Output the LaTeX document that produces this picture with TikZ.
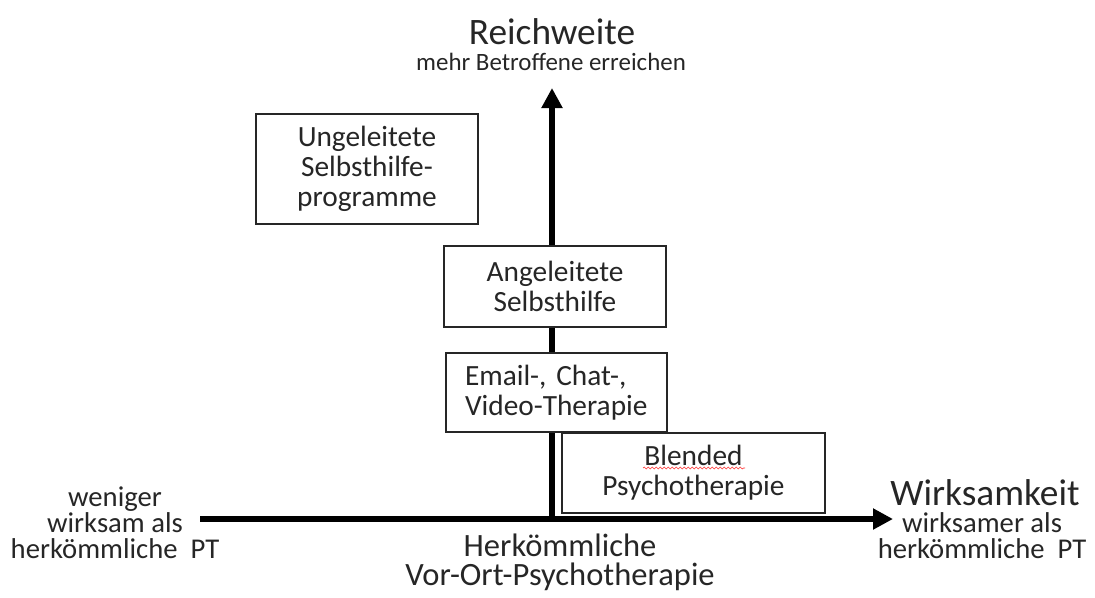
\documentclass[tikz,border=0pt]{standalone}
\usepackage{fontspec}
\setmainfont{Carlito}
\usetikzlibrary{arrows.meta,decorations.pathmorphing}

\newcommand\titlefont{\fontsize{28}{30}\selectfont}
\newcommand\subtitlefont{\fontsize{18.7}{20}\selectfont}
\newcommand\boxfont{\fontsize{22}{22.5}\selectfont}
\newcommand\sidefont{\fontsize{21.5}{19.2}\selectfont}
\newcommand\centerfont{\fontsize{24.4}{21.5}\selectfont}

\begin{document}
\begin{tikzpicture}[x=0.75pt,y=-0.75pt,
  axis/.style={line width=4.8pt,-{Triangle[length=15pt,width=15pt]}},
  method/.style={draw=black!85,fill=white,line width=0.9pt,inner sep=0pt,
    font=\boxfont,text=black!85,align=center},
  label/.style={anchor=base,inner sep=0pt,text=black!85,align=center}]
  \useasboundingbox (0,0) rectangle (1095,597);

  % axes
  \coordinate (origin) at (552,519);
  \coordinate (top)    at (552,88);
  \coordinate (left)   at (200,519);
  \coordinate (right)  at (893,519);
  \draw[axis] (origin) -- (top);
  \draw[axis] (left) -- (right);

  % vertical axis title
  \node[label,font=\titlefont]    (reach)    at (552,44) {Reichweite};
  \node[label,font=\subtitlefont] (reachsub) at (551,70) {mehr Betroffene erreichen};

  % horizontal axis, left end (base = last line)
  \node[label,font=\sidefont] (less) at (115,558)
    {weniger\\wirksam als\\herkömmliche\ \ PT};

  % horizontal axis, right end
  \node[label,font=\titlefont] (effect) at (985,505) {Wirksamkeit};
  \node[label,font=\sidefont]  (more)   at (982,558)
    {wirksamer als\\herkömmliche\ \ PT};

  % origin: conventional therapy
  \node[label,font=\centerfont] (conv) at (560,585)
    {Herkömmliche\\Vor-Ort-Psychotherapie};

  % treatment formats
  \node[method,minimum width=222*0.75pt,minimum height=110*0.75pt]
    (unguided) at (367,169) {Ungeleitete\\Selbsthilfe-\\programme};
  \node[method,minimum width=222*0.75pt,minimum height=81*0.75pt]
    (guided) at (555,286.5) {Angeleitete\\Selbsthilfe};
  \node[method,minimum width=221*0.75pt,minimum height=79*0.75pt,
    inner xsep=19*0.75pt,text width=183*0.75pt,align=left]
    (email) at (556.5,392.5) {Email-, Chat-,\\Video-Therapie};
  \node[method,minimum width=263*0.75pt,minimum height=80*0.75pt]
    (blended) at (693.5,473) {Blended\\Psychotherapie};

  % spell-check underline under "Blended"
  \draw[red!80,line width=0.45pt,decorate,
    decoration={snake,amplitude=0.7pt,segment length=3pt}]
    (643,468) -- (745,468);
\end{tikzpicture}
\end{document}
